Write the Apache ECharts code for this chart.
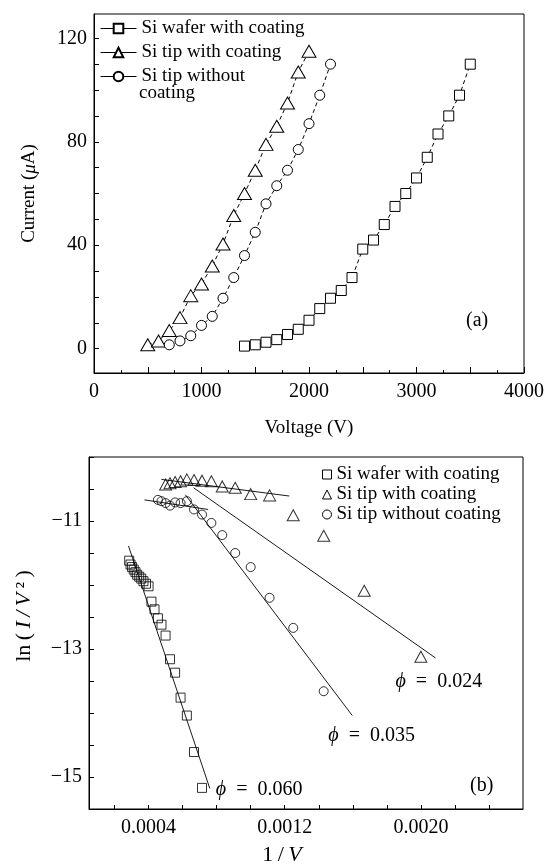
<!DOCTYPE html>
<html><head><meta charset="utf-8">
<script src="https://cdn.jsdelivr.net/npm/echarts@6/dist/echarts.min.js"></script>
<style>html,body{margin:0;padding:0;background:#fff}#c{width:547px;height:867px}</style>
</head><body><div id="c"></div>
<script>
// ---------- Panel (a): I–V data ----------
const voltage_wafer = [1400,1500,1600,1700,1800,1900,2000,2100,2200,2300,2400,2500,2600,2700,2800,2900,3000,3100,3200,3300,3400,3500];
const current_wafer = [1,1.5,2.5,3.5,5.5,7.5,11,15.5,19.5,22.5,27.5,38.5,42,48,55,60,66,74,83,90,98,110];
const voltage_tipCoated = [500,600,700,800,900,1000,1100,1200,1300,1400,1500,1600,1700,1800,1900,2000];
const current_tipCoated = [1.5,3,7,12,20.5,25,32,40.5,51.5,60,69,79,86,95,107,115];
const voltage_tipBare = [700,800,900,1000,1100,1200,1300,1400,1500,1600,1700,1800,1900,2000,2100,2200];
const current_tipBare = [1.5,3,5,9,12.5,19.5,27.5,36,45,56,63,69,77,87,98,110];

// ---------- Panel (b): F-N plot data ----------
const invV_wafer = [0.000286,0.000294,0.000303,0.000313,0.000323,0.000333,0.000345,0.000357,0.000370,0.000385,0.000400,0.000417,0.000435,0.000455,0.000476,0.000500,0.000526,0.000556,0.000588,0.000625,0.000667,0.000714];
const lnIV2_wafer = [-11.62,-11.68,-11.72,-11.76,-11.80,-11.84,-11.87,-11.90,-11.94,-11.98,-12.02,-12.26,-12.38,-12.52,-12.62,-12.79,-13.16,-13.37,-13.76,-14.04,-14.61,-15.17];
const invV_tipCoated = [0.000500,0.000526,0.000556,0.000588,0.000625,0.000667,0.000714,0.000769,0.000833,0.000909,0.001000,0.001111,0.001250,0.001429,0.001667,0.002000];
const lnIV2_tipCoated = [-10.43,-10.41,-10.39,-10.38,-10.35,-10.36,-10.37,-10.38,-10.46,-10.48,-10.58,-10.60,-10.91,-11.23,-12.09,-13.12];
const invV_tipBare = [0.000455,0.000476,0.000500,0.000526,0.000556,0.000588,0.000625,0.000667,0.000714,0.000769,0.000833,0.000909,0.001000,0.001111,0.001250,0.001429];
const lnIV2_tipBare = [-10.67,-10.69,-10.72,-10.76,-10.71,-10.72,-10.69,-10.82,-10.90,-11.03,-11.22,-11.50,-11.72,-12.20,-12.67,-13.66];

// fitted straight lines (end points)
const fitWafer_x = [0.000282, 0.000760];
const fitWafer_y = [-11.39, -15.18];
const fitCoatedLow_x = [0.000475, 0.001227];
const fitCoatedLow_y = [-10.35, -10.61];
const fitCoatedHigh_x = [0.000664, 0.002086];
const fitCoatedHigh_y = [-10.48, -13.14];
const fitBareLow_x = [0.000376, 0.000750];
const fitBareLow_y = [-10.67, -10.82];
const fitBareHigh_x = [0.000616, 0.001597];
const fitBareHigh_y = [-10.59, -14.04];

// tick / label values
const topXLabels = [0,1000,2000,3000,4000];
const topYTicks = [0,10,20,30,40,50,60,70,80,90,100,110,120];
const topYLabels = [0,40,80,120];
const botXTicks = [0.0002,0.0004,0.0006,0.0008,0.0010,0.0012,0.0014,0.0016,0.0018,0.0020,0.0022,0.0024];
const botXLabels = [0.0004,0.0012,0.0020];
const botYLabels = [-15,-13,-11];

const NAME_W = 'Si wafer with coating';
const NAME_C = 'Si tip with coating';
const NAME_B = 'Si tip without coating';

const FONT = 'Liberation Serif';
const zip = (a,b) => a.map((v,i)=>[v,b[i]]);
const minus = v => (v < 0 ? '\u2212' : '') + Math.abs(v);
const TS = '\u2009'; // thin space
const ES = '\u2002'; // en space

const chart = echarts.init(document.getElementById('c'), null, {renderer:'canvas'});

const richBase = {
  n:{fontFamily:FONT, fontSize:19, color:'#000'},
  i:{fontFamily:FONT, fontSize:19, fontStyle:'italic', color:'#000'}
};
const richBig = {
  n:{fontFamily:FONT, fontSize:22, color:'#000'},
  i:{fontFamily:FONT, fontSize:22, fontStyle:'italic', color:'#000'}
};
const richPhi = {
  n:{fontFamily:FONT, fontSize:20, color:'#000'},
  i:{fontFamily:FONT, fontSize:20, fontStyle:'italic', color:'#000'}
};

const topMarker = {color:'#fff', borderColor:'#000', borderWidth:1};
const dashed = {color:'#000', width:1, type:[4,3]};
const openMarker = {color:'rgba(0,0,0,0)', borderColor:'#000', borderWidth:1};
const fitStyle = {color:'#000', width:0.9};

function fitSeries(x, y, label, off){
  const s = {
    type:'line', xAxisIndex:1, yAxisIndex:1, data:zip(x,y), showSymbol:false, symbol:'none',
    lineStyle:fitStyle, silent:true, z:1, animation:false
  };
  if (label) {
    s.endLabel = {show:true, formatter:label, distance:6, offset:off, rich:richPhi, color:'#000'};
  }
  return s;
}
const phiText = v => '{i|ϕ}{n|' + ES + '=' + ES + v + '}';

const option = {
  animation:false,
  backgroundColor:'#fff',
  textStyle:{fontFamily:FONT, color:'#000'},
  grid:[
    {left:94, top:14, width:432, height:359, show:true, borderColor:'#000', borderWidth:1, containLabel:false},
    {left:89, top:457, width:434, height:355, show:true, borderColor:'#000', borderWidth:1, containLabel:false}
  ],
  xAxis:[
    {gridIndex:0, type:'value', min:0, max:4000, interval:500,
     axisLine:{onZero:false, lineStyle:{color:'#000', width:1}},
     axisTick:{inside:true, length:6, lineStyle:{color:'#000'}},
     minorTick:{show:true, splitNumber:2, length:3, lineStyle:{color:'#000'}},
     splitLine:{show:false},
     axisLabel:{customValues:topXLabels, formatter:v=>String(v), fontFamily:FONT, fontSize:20, color:'#000', margin:9},
     name:'Voltage (V)', nameLocation:'middle', nameGap:46,
     nameTextStyle:{fontFamily:FONT, fontSize:19, color:'#000'}},
    {gridIndex:1, type:'value', min:0.00005, max:0.0026,
     axisLine:{onZero:false, lineStyle:{color:'#000', width:1}},
     axisTick:{inside:true, length:4, customValues:botXTicks, lineStyle:{color:'#000'}},
     splitLine:{show:false},
     axisLabel:{customValues:botXLabels, formatter:v=>v.toFixed(4), fontFamily:FONT, fontSize:20, color:'#000', margin:9},
     name:'{n|1' + TS + '/' + TS + '}{i|V}', nameLocation:'middle', nameGap:35,
     nameTextStyle:{rich:richBig, padding:[0,48,0,0]}}
  ],
  yAxis:[
    {gridIndex:0, type:'value', min:-9.4, max:129.4,
     axisLine:{onZero:false, lineStyle:{color:'#000', width:1}},
     axisTick:{inside:true, length:5, customValues:topYTicks, lineStyle:{color:'#000'}},
     splitLine:{show:false},
     axisLabel:{customValues:topYLabels, formatter:v=>String(v), fontFamily:FONT, fontSize:20, color:'#000', margin:7},
     name:'{n|Current (}{i|μ}{n|A)}', nameLocation:'middle', nameGap:55,
     nameTextStyle:{rich:richBase}},
    {gridIndex:1, type:'value', min:-15.5, max:-10, interval:0.5,
     axisLine:{onZero:false, lineStyle:{color:'#000', width:1}},
     axisTick:{inside:true, length:5, lineStyle:{color:'#000'}},
     splitLine:{show:false},
     axisLabel:{customValues:botYLabels, formatter:minus, fontFamily:FONT, fontSize:20, color:'#000', margin:7},
     name:'{n|ln' + TS + '(}{i|' + TS + 'I' + TS + '/' + TS + 'V}{n|' + TS + '²' + TS + ')}', nameLocation:'middle', nameGap:54,
     nameTextStyle:{rich:richBig, padding:[0,0,0,34]}}
  ],
  legend:[
    {left:95, top:14, orient:'vertical', itemWidth:36, itemHeight:12, itemGap:5, selectedMode:false,
     data:[NAME_W, NAME_C, NAME_B],
     formatter: n => n === NAME_B ? 'Si tip without' : n,
     lineStyle:{type:'solid', width:1},
     textStyle:{fontFamily:FONT, fontSize:19, color:'#000'}},
    {left:317, top:460, orient:'vertical', itemWidth:9, itemHeight:9, itemGap:1, selectedMode:false,
     data:[
       {name:NAME_W, icon:'rect', itemStyle:openMarker},
       {name:NAME_C, icon:'triangle', itemStyle:openMarker},
       {name:NAME_B, icon:'circle', itemStyle:openMarker}
     ],
     textStyle:{fontFamily:FONT, fontSize:19, color:'#000'}}
  ],
  graphic:[
    {type:'text', left:139, top:84, style:{text:'coating', font:'19px "Liberation Serif"', fill:'#000'}},
    {type:'text', left:466, top:311, style:{text:'(a)', font:'20px "Liberation Serif"', fill:'#000'}},
    {type:'text', left:470, top:776, style:{text:'(b)', font:'20px "Liberation Serif"', fill:'#000'}}
  ],
  series:[
    {name:NAME_W, type:'line', xAxisIndex:0, yAxisIndex:0, data:zip(voltage_wafer,current_wafer),
     symbol:'rect', symbolSize:10, itemStyle:topMarker, lineStyle:dashed, z:3},
    {name:NAME_C, type:'line', xAxisIndex:0, yAxisIndex:0, data:zip(voltage_tipCoated,current_tipCoated),
     symbol:'triangle', symbolSize:[14,12], itemStyle:topMarker, lineStyle:dashed, z:3},
    {name:NAME_B, type:'line', xAxisIndex:0, yAxisIndex:0, data:zip(voltage_tipBare,current_tipBare),
     symbol:'circle', symbolSize:10, itemStyle:topMarker, lineStyle:dashed, z:3},

    {name:NAME_W, type:'scatter', xAxisIndex:1, yAxisIndex:1, data:zip(invV_wafer,lnIV2_wafer),
     symbol:'rect', symbolSize:9, itemStyle:openMarker, z:3},
    {name:NAME_C, type:'scatter', xAxisIndex:1, yAxisIndex:1, data:zip(invV_tipCoated,lnIV2_tipCoated),
     symbol:'triangle', symbolSize:[12,11], itemStyle:openMarker, z:3},
    {name:NAME_B, type:'scatter', xAxisIndex:1, yAxisIndex:1, data:zip(invV_tipBare,lnIV2_tipBare),
     symbol:'circle', symbolSize:9, itemStyle:openMarker, z:3},

    fitSeries(fitWafer_x, fitWafer_y, phiText('0.060'), [0,1]),
    fitSeries(fitCoatedLow_x, fitCoatedLow_y),
    fitSeries(fitCoatedHigh_x, fitCoatedHigh_y, phiText('0.024'), [-46,24]),
    fitSeries(fitBareLow_x, fitBareLow_y),
    fitSeries(fitBareHigh_x, fitBareHigh_y, phiText('0.035'), [-30,20])
  ]
};
chart.setOption(option);
</script></body></html>
